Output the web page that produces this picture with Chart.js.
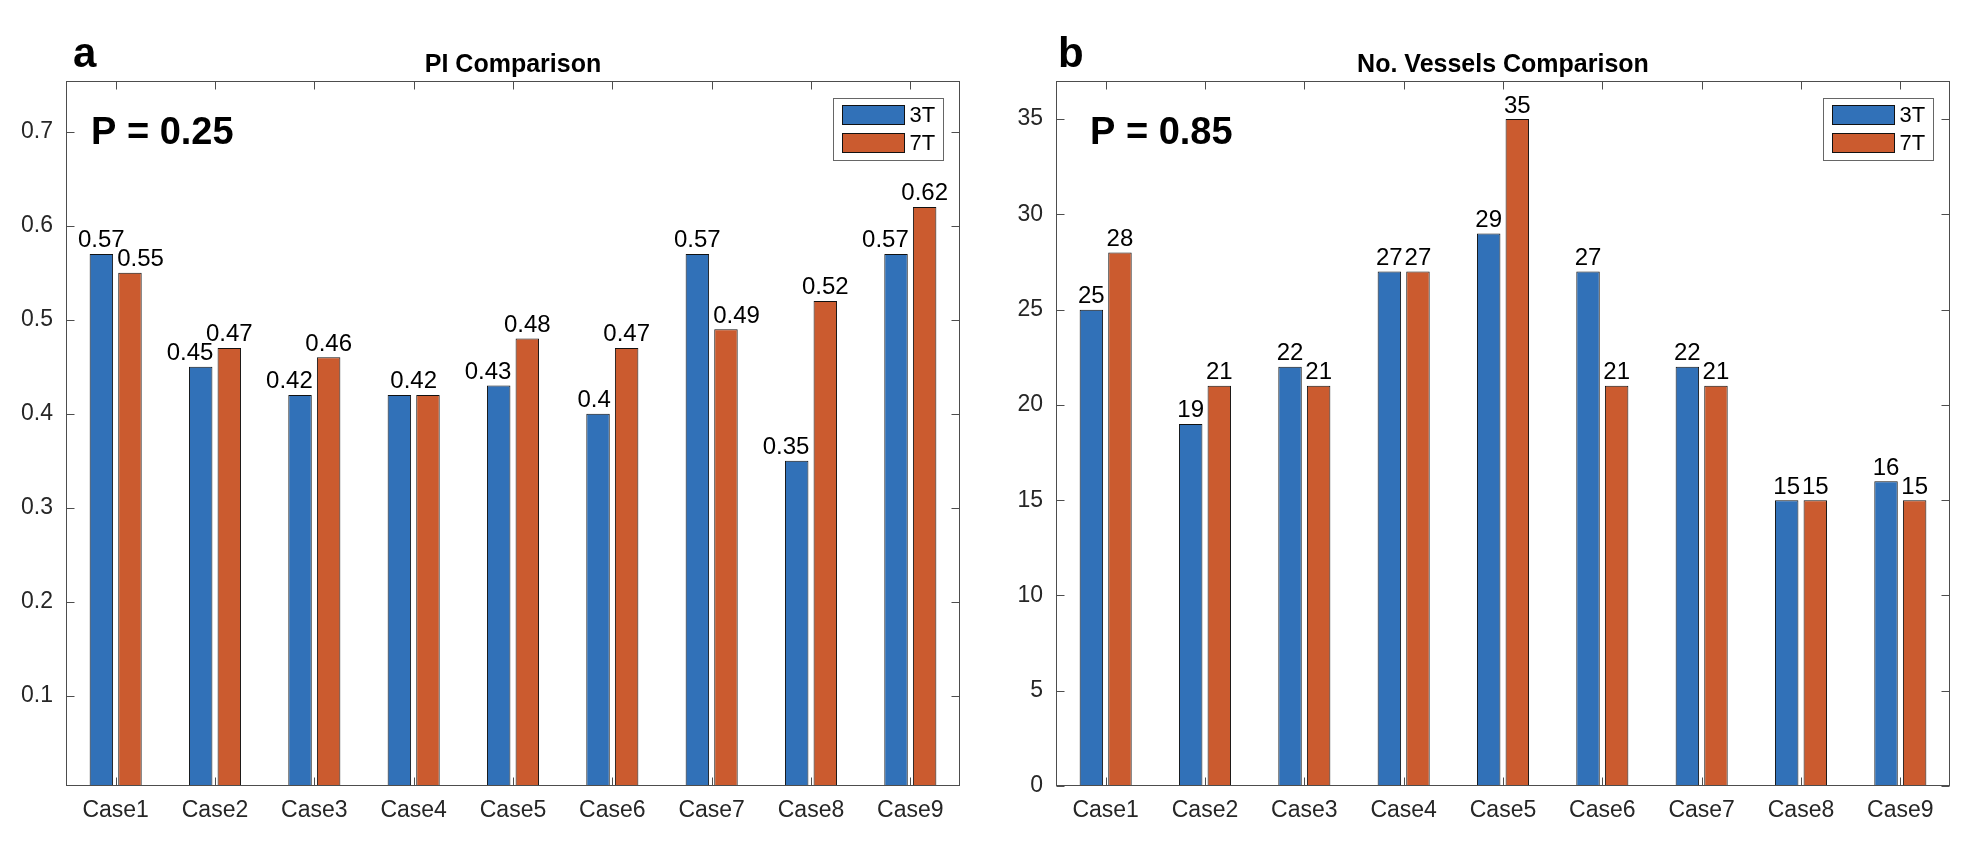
<!DOCTYPE html>
<html>
<head>
<meta charset="utf-8">
<script src="https://cdn.jsdelivr.net/npm/chart.js@4.4.1/dist/chart.umd.min.js"></script>
<style>
    html, body { margin: 0; padding: 0; background: #fff; }
    body { width: 1988px; height: 862px; position: relative; overflow: hidden; }
    canvas { position: absolute; top: 0; }
    #piChart { left: 0; }
    #vesselChart { left: 994px; }
</style>
</head>
<body>
<canvas id="piChart" width="994" height="862"></canvas>
<canvas id="vesselChart" width="994" height="862"></canvas>
<script>
// البيانات
const caseLabels = ['Case1', 'Case2', 'Case3', 'Case4', 'Case5', 'Case6', 'Case7', 'Case8', 'Case9'];
const seriesNames = ['3T', '7T'];
const pi3T = [0.57, 0.45, 0.42, 0.42, 0.43, 0.40, 0.57, 0.35, 0.57];
const pi7T = [0.55, 0.47, 0.46, 0.42, 0.48, 0.47, 0.49, 0.52, 0.62];
const vessels3T = [25, 19, 22, 27, 29, 27, 22, 15, 16];
const vessels7T = [28, 21, 21, 27, 35, 21, 21, 15, 15];
const piTickValues = [0.1, 0.2, 0.3, 0.4, 0.5, 0.6, 0.7];
const vesselTickValues = [0, 5, 10, 15, 20, 25, 30, 35];

const FONT = '"Liberation Sans", Arial, Helvetica, sans-serif';
const BLUE = '#3171b8';
const ORANGE = '#cb5b2f';
const AXIS = '#4d4d4d';

// عناوين اللوحة والقيمة P
const panelTextPlugin = {
    id: 'panelText',
    afterDraw(chart, args, opts) {
        const ctx = chart.ctx, a = chart.chartArea;
        ctx.save();
        ctx.fillStyle = '#000';
        ctx.textBaseline = 'alphabetic';
        ctx.textAlign = 'left';
        ctx.font = 'bold 42px ' + FONT;
        ctx.fillText(opts.letter, a.left + opts.letterOffset, 67);
        ctx.textAlign = 'center';
        ctx.font = 'bold 25px ' + FONT;
        ctx.fillText(opts.title, (a.left + a.right) / 2, 72);
        ctx.textAlign = 'left';
        ctx.font = 'bold 38px ' + FONT;
        ctx.fillText(opts.pText, a.left + opts.pOffset, a.top + 63);
        ctx.restore();
    }
};

// إطار المحاور والعلامات الداخلية
const axesBoxPlugin = {
    id: 'axesBox',
    afterDraw(chart) {
        const ctx = chart.ctx, a = chart.chartArea;
        const x = chart.scales.x, y = chart.scales.y;
        const L = Math.round(a.left) + 0.5, R = Math.round(a.right) - 0.5;
        const T = Math.round(a.top) + 0.5, B = Math.round(a.bottom) - 0.5;
        ctx.save();
        ctx.strokeStyle = AXIS;
        ctx.lineWidth = 1;
        ctx.strokeRect(L, T, R - L, B - T);
        ctx.beginPath();
        y.ticks.forEach(t => {
            const py = Math.round(y.getPixelForValue(t.value)) + 0.5;
            ctx.moveTo(L, py); ctx.lineTo(L + 8, py);
            ctx.moveTo(R, py); ctx.lineTo(R - 8, py);
        });
        x.ticks.forEach((t, i) => {
            const px = Math.round(x.getPixelForTick(i)) + 0.5;
            ctx.moveTo(px, T); ctx.lineTo(px, T + 8);
            ctx.moveTo(px, B); ctx.lineTo(px, B - 8);
        });
        ctx.stroke();
        ctx.restore();
    }
};

// وسيلة الإيضاح داخل منطقة الرسم
const boxLegendPlugin = {
    id: 'boxLegend',
    afterDraw(chart) {
        const ctx = chart.ctx, a = chart.chartArea;
        const w = 110, h = 62;
        const bx = Math.round(a.right - 17 - w) + 0.5, by = Math.round(a.top + 17) + 0.5;
        ctx.save();
        ctx.fillStyle = '#fff';
        ctx.fillRect(bx, by, w, h);
        ctx.strokeStyle = '#666';
        ctx.lineWidth = 1;
        ctx.strokeRect(bx, by, w, h);
        ctx.font = '22px ' + FONT;
        ctx.textBaseline = 'middle';
        ctx.textAlign = 'left';
        chart.data.datasets.forEach((ds, i) => {
            const sy = by + 7 + i * 28;
            ctx.fillStyle = ds.backgroundColor;
            ctx.fillRect(bx + 9, sy, 62, 19);
            ctx.strokeStyle = '#111';
            ctx.strokeRect(bx + 9, sy, 62, 19);
            ctx.fillStyle = '#000';
            ctx.fillText(ds.label, bx + 76, sy + 10.5);
        });
        ctx.restore();
    }
};

// قيم الأعمدة فوقها
const barLabelPlugin = {
    id: 'barLabels',
    afterDatasetsDraw(chart, args, opts) {
        const ctx = chart.ctx;
        const m0 = chart.getDatasetMeta(0), m1 = chart.getDatasetMeta(1);
        const d0 = chart.data.datasets[0].data, d1 = chart.data.datasets[1].data;
        const gap = 6.5;
        ctx.save();
        ctx.font = '24px ' + FONT;
        ctx.fillStyle = '#000';
        ctx.textBaseline = 'alphabetic';
        d0.forEach((v0, i) => {
            const v1 = d1[i], b0 = m0.data[i], b1 = m1.data[i];
            if (!opts.avoid) {
                ctx.textAlign = 'center';
                ctx.fillText(String(v0), b0.x, b0.y - gap);
                ctx.fillText(String(v1), b1.x, b1.y - gap);
            } else if (v0 === v1) {
                ctx.textAlign = 'center';
                ctx.fillText(String(v0), (b0.x + b1.x) / 2, b0.y - gap);
            } else if (v0 < v1) {
                ctx.textAlign = 'right';
                ctx.fillText(String(v0), b0.x + b0.width / 2 + 1, b0.y - gap);
                ctx.textAlign = 'center';
                ctx.fillText(String(v1), b1.x, b1.y - gap);
            } else {
                ctx.textAlign = 'center';
                ctx.fillText(String(v0), b0.x, b0.y - gap);
                ctx.textAlign = 'left';
                ctx.fillText(String(v1), b1.x - b1.width / 2 - 1, b1.y - gap);
            }
        });
        ctx.restore();
    }
};

function makeChart(canvasId, s1, s2, tickValues, yMin, yMax, axisWidth, padRight, panel, avoid) {
    const ctx = document.getElementById(canvasId).getContext('2d');
    return new Chart(ctx, {
        type: 'bar',
        data: {
            labels: caseLabels,
            datasets: [
                { label: seriesNames[0], data: s1, backgroundColor: BLUE, borderColor: '#111', borderWidth: 1 },
                { label: seriesNames[1], data: s2, backgroundColor: ORANGE, borderColor: '#111', borderWidth: 1 }
            ]
        },
        options: {
            responsive: false,
            animation: false,
            devicePixelRatio: 1,
            categoryPercentage: 0.576,
            barPercentage: 0.82,
            layout: { padding: { top: 81, right: padRight, bottom: 0, left: 0 } },
            scales: {
                x: {
                    offset: true,
                    grid: { display: false, drawTicks: false },
                    border: { display: false },
                    ticks: { color: '#262626', font: { family: FONT, size: 23 }, padding: 11, maxRotation: 0 },
                    afterFit: scale => { scale.height = 76; }
                },
                y: {
                    min: yMin,
                    max: yMax,
                    grid: { display: false, drawTicks: false },
                    border: { display: false },
                    ticks: { color: '#262626', font: { family: FONT, size: 23 }, padding: 13 },
                    afterBuildTicks: scale => { scale.ticks = tickValues.map(v => ({ value: v })); },
                    afterFit: scale => { scale.width = axisWidth; }
                }
            },
            plugins: {
                legend: { display: false },
                tooltip: { enabled: false },
                panelText: panel,
                barLabels: { avoid: avoid }
            }
        },
        plugins: [barLabelPlugin, axesBoxPlugin, boxLegendPlugin, panelTextPlugin]
    });
}

document.addEventListener('DOMContentLoaded', function() {
    // مخطط PI
    window.piChart = makeChart('piChart', pi3T, pi7T, piTickValues, 0.004, 0.754, 66, 34,
        { letter: 'a', letterOffset: 7, title: 'PI Comparison', pText: 'P = 0.25', pOffset: 25 }, true);

    // مخطط عدد الأوعية
    window.vesselChart = makeChart('vesselChart', vessels3T, vessels7T, vesselTickValues, 0, 37, 62, 38,
        { letter: 'b', letterOffset: 2, title: 'No. Vessels Comparison', pText: 'P = 0.85', pOffset: 34 }, false);
});
</script>
</body>
</html>
